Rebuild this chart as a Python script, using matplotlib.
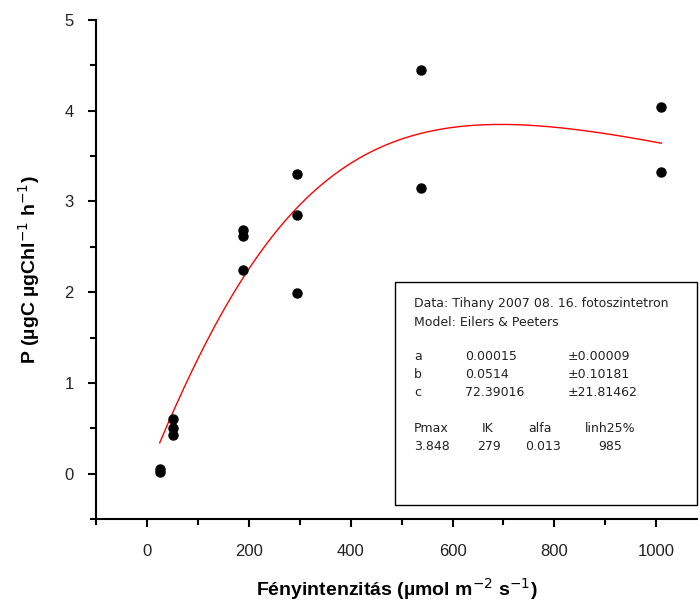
import numpy as np
from matplotlib import pyplot as plt
from matplotlib.patches import Rectangle

# measured points (light intensity, production)
light = [25, 25, 51, 51, 51, 188, 188, 188, 294, 294, 294, 539, 539, 1010, 1010]
prod = [0.02, 0.05, 0.60, 0.50, 0.43, 2.68, 2.62, 2.25, 3.30, 2.85, 1.99, 4.45, 3.15, 4.04, 3.33]

# Eilers & Peeters fit parameters shown in the box
par_a = 0.00015
par_b = 0.0514
par_c = 72.39016
fit_range = [25, 1010]

plt.rcParams['font.family'] = ['Liberation Sans', 'DejaVu Sans']

fig = plt.figure(figsize=(7, 6.01), dpi=100)
ax = fig.add_axes([96 / 700, 1 - 519 / 601, 601 / 700, 499 / 601])

xs = np.linspace(fit_range[0], fit_range[1], 300)
ax.plot(xs, xs / (par_a * xs ** 2 + par_b * xs + par_c), color='red', lw=1)
ax.plot(light, prod, 'o', color='black', ms=6.5)

ax.set_xlim(-100, 1080)
ax.set_ylim(-0.5, 5)
ax.set_xticks([0, 200, 400, 600, 800, 1000])
ax.set_xticks(np.arange(-100, 1080, 100), minor=True)
ax.set_yticks([0, 1, 2, 3, 4, 5])
ax.set_yticks(np.arange(-0.5, 5, 0.5), minor=True)
ax.spines['top'].set_visible(False)
ax.spines['right'].set_visible(False)
for s in ['left', 'bottom']:
    ax.spines[s].set_linewidth(1.5)
ax.tick_params(which='major', length=6, width=1.5, labelsize=12, labelcolor='#222222')
ax.tick_params(axis='x', which='major', pad=12)
ax.tick_params(axis='y', which='major', pad=10)
ax.tick_params(which='minor', length=4, width=1.5)

ax.set_xlabel('Fényintenzitás (µmol m$^{-2}$ s$^{-1}$)', fontsize=14, fontweight='bold', labelpad=12)
ax.set_ylabel('P (µgC µgChl$^{-1}$ h$^{-1}$)', fontsize=14, fontweight='bold', labelpad=16)

# parameter box
fig.patches.append(Rectangle((395 / 700, 1 - 505 / 601), 302 / 700, 223 / 601,
                             transform=fig.transFigure, fill=False, lw=1, ec='black'))


def put(px, py, s):
    fig.text(px / 700, 1 - py / 601, s, fontsize=9, color='#222222', va='center',
             family='DejaVu Sans')


put(414, 304, 'Data: Tihany 2007 08. 16. fotoszintetron')
put(414, 322, 'Model: Eilers & Peeters')
rows = [('a', '0.00015', '±0.00009'), ('b', '0.0514', '±0.10181'), ('c', '72.39016', '±21.81462')]
for i, (n, v, e) in enumerate(rows):
    y = 357 + i * 18
    put(414, y, n)
    put(465, y, v)
    put(568, y, e)
for x, s in zip([414, 482, 528, 585], ['Pmax', 'IK', 'alfa', 'linh25%']):
    put(x, 428, s)
for x, s in zip([414, 477, 525, 598], ['3.848', '279', '0.013', '985']):
    put(x, 447, s)

fig.savefig('out.png', dpi=100)
